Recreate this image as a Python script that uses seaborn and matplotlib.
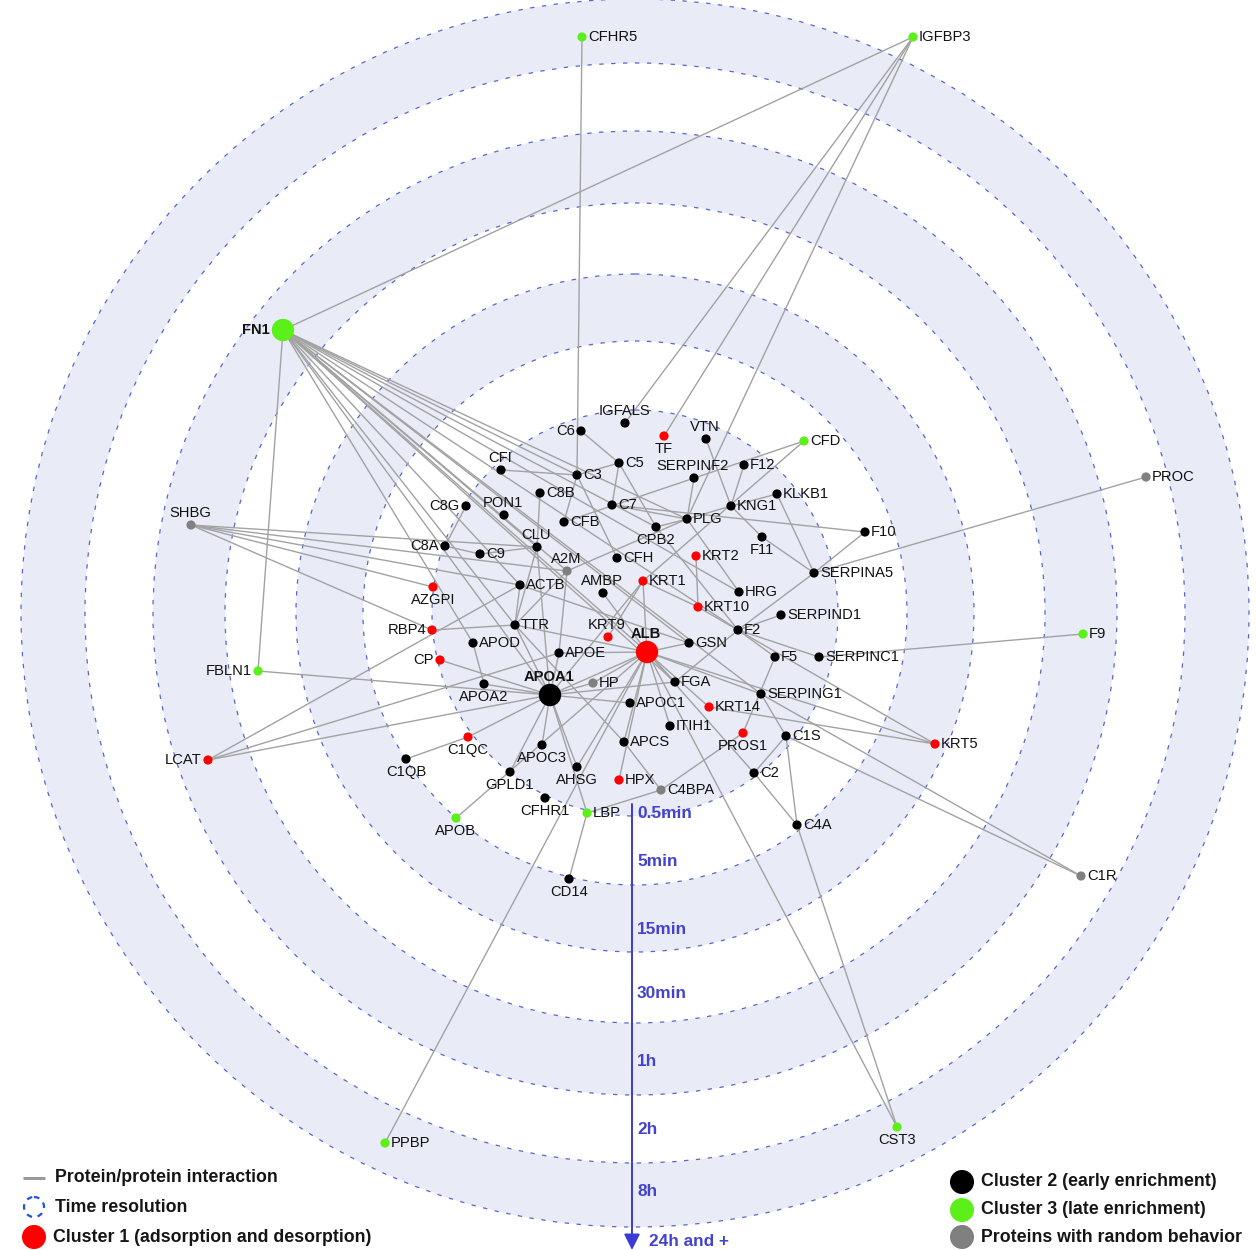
import matplotlib
matplotlib.use("Agg")
import matplotlib.pyplot as plt
from matplotlib.patches import Circle
from matplotlib.collections import LineCollection
import pandas as pd
import seaborn as sns

sns.set_theme(style="white")
plt.rcParams["font.family"] = ["Liberation Sans", "DejaVu Sans"]

# ---------------------------------------------------------------- data
proteins = [
    "FN1", "CFHR5", "IGFBP3", "IGFALS", "C6", "TF", "VTN", "CFD", "CFI", "C5",
    "C3", "SERPINF2", "F12", "C8B", "KLKB1", "PROC", "C8G", "PON1", "C7", "KNG1",
    "CFB", "PLG", "CPB2", "F10", "F11", "SHBG", "C8A", "CLU", "C9", "A2M",
    "CFH", "KRT2", "SERPINA5", "ACTB", "AMBP", "KRT1", "AZGPI", "HRG", "KRT10", "SERPIND1",
    "RBP4", "TTR", "KRT9", "F2", "F9", "APOD", "ALB", "GSN", "APOE", "F5",
    "SERPINC1", "CP", "FBLN1", "APOA1", "HP", "FGA", "APOA2", "SERPING1", "APOC1", "KRT14",
    "ITIH1", "PROS1", "C1S", "C1QC", "APCS", "KRT5", "APOC3", "LCAT", "C1QB", "GPLD1",
    "C2", "AHSG", "HPX", "C4BPA", "CFHR1", "LBP", "APOB", "C4A", "C1R", "CD14",
    "PPBP", "CST3",
]
node_x = [
    283, 582, 913, 625, 581, 664, 706, 804, 501, 619,
    577, 694, 744, 540, 777, 1146, 466, 504, 612, 731,
    564, 687, 656, 865, 762, 191, 445, 537, 480, 567,
    617, 696, 814, 520, 603, 643, 433, 739, 698, 781,
    432, 515, 608, 738, 1083, 473, 647, 689, 559, 775,
    819, 440, 258, 550, 593, 675, 484, 761, 630, 709,
    670, 743, 786, 468, 624, 935, 542, 208, 406, 510,
    754, 577, 619, 661, 545, 587, 456, 797, 1081, 569,
    385, 897,
]
node_y = [
    330, 37, 37, 423, 431, 436, 439, 441, 470, 463,
    475, 478, 465, 493, 494, 477, 506, 515, 505, 506,
    522, 519, 527, 532, 537, 525, 546, 547, 554, 571,
    558, 556, 573, 585, 593, 581, 587, 592, 607, 615,
    630, 625, 637, 630, 634, 643, 652, 643, 653, 657,
    657, 660, 671, 695, 683, 682, 684, 694, 703, 707,
    726, 733, 736, 737, 742, 744, 745, 760, 759, 772,
    773, 767, 780, 790, 798, 813, 818, 825, 876, 879,
    1143, 1127,
]
# 1 = adsorption/desorption, 2 = early, 3 = late, 0 = random behaviour
cluster = [
    3, 3, 3, 2, 2, 1, 2, 3, 2, 2,
    2, 2, 2, 2, 2, 0, 2, 2, 2, 2,
    2, 2, 2, 2, 2, 0, 2, 2, 2, 0,
    2, 1, 2, 2, 2, 1, 1, 2, 1, 2,
    1, 2, 1, 2, 3, 2, 1, 2, 2, 2,
    2, 1, 3, 2, 0, 2, 2, 2, 2, 1,
    2, 1, 2, 1, 2, 1, 2, 1, 2, 2,
    2, 2, 1, 0, 2, 3, 3, 2, 0, 2,
    3, 3,
]
hubs = ["FN1", "ALB", "APOA1"]

interactions = [
    ("FN1", "IGFBP3"), ("FN1", "FBLN1"), ("FN1", "PLG"), ("FN1", "C3"), ("FN1", "CPB2"),
    ("FN1", "HRG"), ("FN1", "F2"), ("FN1", "SERPING1"), ("FN1", "GSN"), ("FN1", "FGA"),
    ("FN1", "ALB"), ("FN1", "A2M"), ("FN1", "CLU"), ("FN1", "ACTB"), ("FN1", "TTR"),
    ("FN1", "APOA1"), ("FN1", "APOD"),
    ("IGFBP3", "IGFALS"), ("IGFBP3", "TF"), ("IGFBP3", "PLG"),
    ("CFHR5", "C3"),
    ("C6", "C5"), ("C3", "C5"), ("C3", "CFI"), ("C3", "CFB"), ("C3", "CFH"),
    ("C5", "C7"), ("C5", "CPB2"),
    ("C8B", "CLU"), ("C8G", "C8A"), ("C8A", "C9"), ("C9", "CLU"),
    ("CFD", "CFB"), ("CFD", "KRT1"),
    ("VTN", "KNG1"), ("F12", "KNG1"), ("KLKB1", "KNG1"), ("KLKB1", "SERPINA5"),
    ("KNG1", "F11"), ("F11", "SERPINA5"), ("KNG1", "PLG"),
    ("PLG", "SERPINF2"), ("PLG", "C7"), ("PLG", "CPB2"), ("PLG", "A2M"), ("PLG", "HRG"),
    ("C7", "F10"), ("F10", "SERPINA5"), ("PROC", "SERPINA5"),
    ("CPB2", "F2"),
    ("F2", "SERPINA5"), ("F2", "SERPIND1"), ("F2", "FGA"), ("F2", "F5"), ("F2", "SERPINC1"),
    ("F9", "SERPINC1"),
    ("KRT2", "KRT10"), ("KRT1", "KRT10"), ("KRT1", "ALB"), ("KRT1", "KRT9"), ("KRT1", "APOA1"),
    ("KRT10", "KRT5"), ("KRT14", "KRT5"), ("ALB", "KRT5"),
    ("SHBG", "CLU"), ("SHBG", "A2M"), ("SHBG", "ACTB"), ("SHBG", "AZGPI"), ("SHBG", "RBP4"),
    ("A2M", "APOE"), ("A2M", "TTR"), ("CLU", "TTR"), ("CLU", "APOA1"),
    ("ACTB", "TTR"), ("ACTB", "GSN"),
    ("RBP4", "TTR"), ("TTR", "ALB"), ("TTR", "APOA1"), ("TTR", "APCS"),
    ("LCAT", "ACTB"), ("LCAT", "APOE"), ("LCAT", "APOA1"), ("FBLN1", "APOA1"), ("CP", "APOA1"),
    ("APOD", "APOA2"), ("APOA2", "APOA1"), ("C1QB", "C1QC"), ("C1QC", "APOA1"),
    ("APOA1", "ALB"), ("APOA1", "HP"), ("APOA1", "APOE"), ("APOA1", "APOC1"), ("APOA1", "FGA"),
    ("APOA1", "APOC3"), ("APOA1", "GPLD1"), ("APOA1", "LBP"), ("APOA1", "AHSG"),
    ("APOB", "ALB"), ("PPBP", "ALB"),
    ("ALB", "HP"), ("ALB", "APOE"), ("ALB", "AMBP"), ("ALB", "GSN"), ("ALB", "FGA"),
    ("ALB", "ITIH1"), ("ALB", "APCS"), ("ALB", "HPX"), ("ALB", "AHSG"), ("ALB", "KRT14"),
    ("ALB", "SERPING1"), ("ALB", "C2"), ("ALB", "CST3"),
    ("SERPING1", "C1S"), ("SERPING1", "C1R"), ("C1S", "C1R"), ("C1S", "C2"), ("C1S", "C4A"),
    ("C2", "C4A"), ("C4A", "CST3"),
    ("PROS1", "F5"), ("PROS1", "C4BPA"), ("C4BPA", "LBP"), ("C4BPA", "APCS"), ("LBP", "CD14"),
]

time_labels = ["0.5min", "5min", "15min", "30min", "1h", "2h", "8h"]
ring_radius = [203, 272, 339, 410, 482, 550, 614]

cluster_names = {
    1: "Cluster 1 (adsorption and desorption)",
    2: "Cluster 2 (early enrichment)",
    3: "Cluster 3 (late enrichment)",
    0: "Proteins with random behavior",
}

# ---------------------------------------------------------------- styling / layout
label_side = {
    "FN1": "l", "IGFALS": "a", "C6": "l", "TF": "b", "VTN": "a", "CFI": "a",
    "SERPINF2": "a", "C8G": "l", "PON1": "a", "CPB2": "b", "F11": "b", "SHBG": "a",
    "C8A": "l", "CLU": "a", "A2M": "a", "AMBP": "a", "AZGPI": "b", "RBP4": "l",
    "KRT9": "a", "ALB": "a", "CP": "l", "FBLN1": "l", "APOA1": "a", "APOA2": "b",
    "PROS1": "b", "C1QC": "b", "APOC3": "b", "LCAT": "l", "C1QB": "b", "GPLD1": "b",
    "AHSG": "b", "CFHR1": "b", "APOB": "b", "CD14": "b", "CST3": "b",
}
colors = {1: "#ff0000", 2: "#000000", 3: "#5cf01a", 0: "#808080"}
ring_fill = "#e9ecf7"
ring_line = "#5566d0"
axis_blue = "#3b3bd6"
label_blue = "#4343cf"
edge_grey = "#a2a2a2"
cx, cy = 635, 613

nodes = pd.DataFrame({
    "protein": proteins, "x": node_x, "y": node_y,
    "group": [cluster_names[c] for c in cluster],
    "kind": ["hub" if p in hubs else "node" for p in proteins],
})
pos = {p: (x, y) for p, x, y in zip(proteins, node_x, node_y)}

fig = plt.figure(figsize=(12.56, 12.5), dpi=100)
ax = fig.add_axes([0, 0, 1, 1])
ax.set_xlim(0, 1256)
ax.set_ylim(1250, 0)
ax.axis("off")

# time-resolution rings, alternately shaded
for i in range(len(ring_radius) - 1, -1, -1):
    r = ring_radius[i]
    face = ring_fill if i % 2 == 0 else "white"
    ax.add_patch(Circle((cx, cy), r, facecolor=face, edgecolor="none", zorder=0))
for r in ring_radius:
    ax.add_patch(Circle((cx, cy), r, fill=False, edgecolor=ring_line, lw=0.9,
                        linestyle=(0, (3.5, 6.0)), zorder=1))

# protein/protein interactions
segments = [[pos[a], pos[b]] for a, b in interactions]
ax.add_collection(LineCollection(segments, colors=edge_grey, linewidths=1.0, zorder=2))

# proteins
palette = {cluster_names[k]: v for k, v in colors.items()}
sns.scatterplot(data=nodes, x="x", y="y", hue="group", palette=palette,
                size="kind", sizes={"hub": 260, "node": 44}, linewidth=0,
                legend=False, ax=ax, zorder=3)
ax.set_xlim(0, 1256)
ax.set_ylim(1250, 0)
ax.set_xlabel("")
ax.set_ylabel("")

for p, x, y in zip(proteins, node_x, node_y):
    side = label_side.get(p, "r")
    big = p in hubs
    weight = "bold" if big else "normal"
    gap = 13 if big else 6
    if side == "r":
        ax.text(x + gap, y, p, ha="left", va="center", fontsize=10.6, color="#111111",
                fontweight=weight, zorder=4)
    elif side == "l":
        ax.text(x - gap, y, p, ha="right", va="center", fontsize=10.6, color="#111111",
                fontweight=weight, zorder=4)
    elif side == "a":
        ax.text(x - 1, y - (18 if big else 12), p, ha="center", va="center", fontsize=10.6,
                color="#111111", fontweight=weight, zorder=4)
    else:
        ax.text(x, y + 13, p, ha="center", va="center", fontsize=10.6, color="#111111",
                fontweight=weight, zorder=4)

# time axis
ax.annotate("", xy=(632, 1250), xytext=(632, 804),
            arrowprops=dict(arrowstyle="-|>", color=axis_blue, lw=1.4,
                            mutation_scale=24, shrinkA=0, shrinkB=0), zorder=5)
time_label_y = [813, 861, 929, 993, 1061, 1130, 1192]
for lab, ty in zip(time_labels, time_label_y):
    ax.text(637, ty, lab, ha="left", va="center", fontsize=12.4, fontweight="bold",
            color=label_blue, zorder=5)
ax.text(649, 1241, "24h and +", ha="left", va="center", fontsize=12.4,
        fontweight="bold", color=label_blue, zorder=5)

# legend
ax.plot([23, 45], [1178, 1178], color="#9a9a9a", lw=2.2, solid_capstyle="butt", zorder=5)
ax.add_patch(Circle((34, 1207), 10, fill=False, edgecolor="#2250e0", lw=1.6,
                    linestyle=(0, (2.5, 2.5)), zorder=5))
leg_left = [("Protein/protein interaction", 1178), ("Time resolution", 1207)]
for txt, ty in leg_left:
    ax.text(55, ty, txt, ha="left", va="center", fontsize=12.8, fontweight="bold",
            color="#151515", zorder=5)
leg_dots = pd.DataFrame({
    "x": [34, 962, 962, 962],
    "y": [1237, 1182, 1210, 1237],
    "group": [cluster_names[1], cluster_names[2], cluster_names[3], cluster_names[0]],
})
sns.scatterplot(data=leg_dots, x="x", y="y", hue="group", palette=palette, s=300,
                linewidth=0, legend=False, ax=ax, zorder=5)
for (gx, gy, g) in zip(leg_dots["x"], leg_dots["y"], leg_dots["group"]):
    ax.text(gx + 19, gy, g, ha="left", va="center", fontsize=12.8, fontweight="bold",
            color="#151515", zorder=5)
ax.set_xlim(0, 1256)
ax.set_ylim(1250, 0)
ax.set_xlabel("")
ax.set_ylabel("")

fig.savefig("out.png", dpi=100)
